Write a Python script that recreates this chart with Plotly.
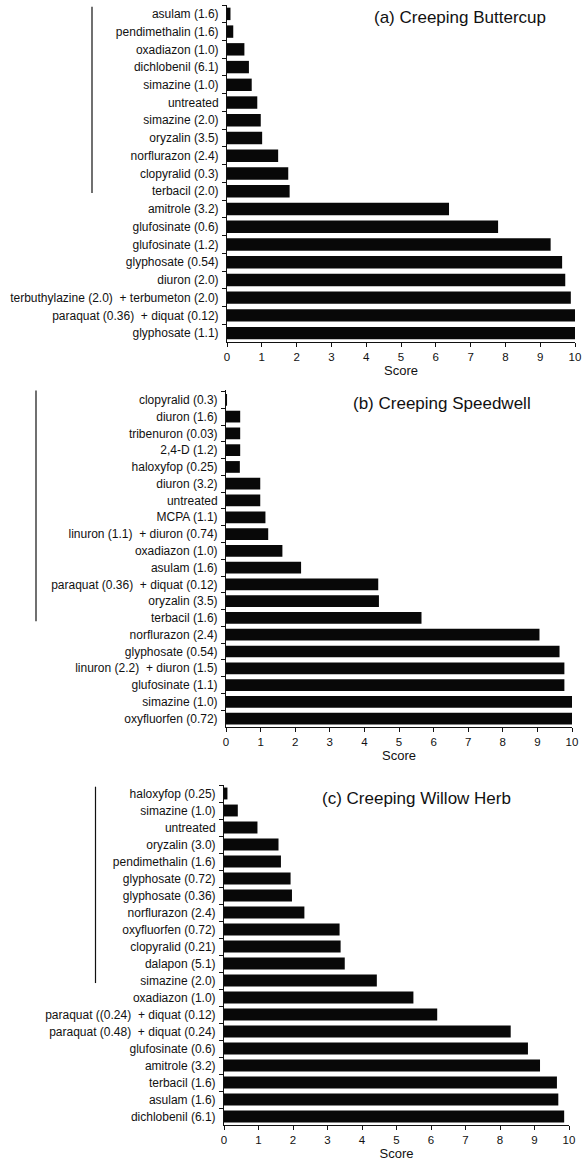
import plotly.graph_objects as go

# ---------------- data ----------------
A_LABELS = ["asulam (1.6)", "pendimethalin (1.6)", "oxadiazon (1.0)", "dichlobenil (6.1)",
            "simazine (1.0)", "untreated", "simazine (2.0)", "oryzalin (3.5)",
            "norflurazon (2.4)", "clopyralid (0.3)", "terbacil (2.0)", "amitrole (3.2)",
            "glufosinate (0.6)", "glufosinate (1.2)", "glyphosate (0.54)", "diuron (2.0)",
            "terbuthylazine (2.0)  + terbumeton (2.0)", "paraquat (0.36)  + diquat (0.12)",
            "glyphosate (1.1)"]
A_SCORES = [0.10, 0.18, 0.50, 0.63, 0.71, 0.87, 0.97, 1.01, 1.47, 1.76, 1.80, 6.38,
            7.79, 9.30, 9.63, 9.72, 9.88, 10.0, 10.0]
A_GROUP = ("asulam (1.6)", "terbacil (2.0)")

B_LABELS = ["clopyralid (0.3)", "diuron (1.6)", "tribenuron (0.03)", "2,4-D (1.2)",
            "haloxyfop (0.25)", "diuron (3.2)", "untreated", "MCPA (1.1)",
            "linuron (1.1)  + diuron (0.74)", "oxadiazon (1.0)", "asulam (1.6)",
            "paraquat (0.36)  + diquat (0.12)", "oryzalin (3.5)", "terbacil (1.6)",
            "norflurazon (2.4)", "glyphosate (0.54)", "linuron (2.2)  + diuron (1.5)",
            "glufosinate (1.1)", "simazine (1.0)", "oxyfluorfen (0.72)"]
B_SCORES = [0.03, 0.41, 0.41, 0.41, 0.40, 0.99, 0.99, 1.14, 1.22, 1.63, 2.17, 4.40,
            4.42, 5.65, 9.06, 9.64, 9.78, 9.78, 10.0, 10.0]
B_GROUP = ("clopyralid (0.3)", "terbacil (1.6)")

C_LABELS = ["haloxyfop (0.25)", "simazine (1.0)", "untreated", "oryzalin (3.0)",
            "pendimethalin (1.6)", "glyphosate (0.72)", "glyphosate (0.36)",
            "norflurazon (2.4)", "oxyfluorfen (0.72)", "clopyralid (0.21)", "dalapon (5.1)",
            "simazine (2.0)", "oxadiazon (1.0)", "paraquat ((0.24)  + diquat (0.12)",
            "paraquat (0.48)  + diquat (0.24)", "glufosinate (0.6)", "amitrole (3.2)",
            "terbacil (1.6)", "asulam (1.6)", "dichlobenil (6.1)"]
C_SCORES = [0.10, 0.40, 0.97, 1.58, 1.65, 1.93, 1.97, 2.33, 3.35, 3.38, 3.50, 4.43,
            5.49, 6.18, 8.31, 8.81, 9.16, 9.65, 9.69, 9.86]
C_GROUP = ("haloxyfop (0.25)", "simazine (2.0)")

TITLES = ["(a) Creeping Buttercup", "(b) Creeping Speedwell", "(c) Creeping Willow Herb"]
X_TICKS = [0, 1, 2, 3, 4, 5, 6, 7, 8, 9, 10]
X_TITLE = "Score"

# ---------------- layout geometry (pixels of 584x1169 canvas) ----------------
W, H = 584, 1169
FONT = "Liberation Sans, Arial, Helvetica, sans-serif"
panels = [
    dict(labels=A_LABELS, scores=A_SCORES, group=A_GROUP, x0=227, x1=575, top=5, bot=342,
         tx=372, ty=18, gx=92, gtop=-0.4, gbot=0.1),
    dict(labels=B_LABELS, scores=B_SCORES, group=B_GROUP, x0=226, x1=572, top=390, bot=727,
         tx=351, ty=403, gx=36, gtop=-0.55, gbot=0.2),
    dict(labels=C_LABELS, scores=C_SCORES, group=C_GROUP, x0=224, x1=569, top=785, bot=1125,
         tx=320, ty=798, gx=95.5, gtop=-0.4, gbot=0.15),
]

fig = go.Figure()
layout = dict(
    width=W, height=H, margin=dict(l=0, r=0, t=0, b=0),
    paper_bgcolor="white", plot_bgcolor="white",
    showlegend=False, bargap=0.3,
    font=dict(family=FONT, color="#111", size=11),
)
annotations = []
shapes = []
for i, p in enumerate(panels):
    n = i + 1
    xa = "x" if n == 1 else f"x{n}"
    ya = "y" if n == 1 else f"y{n}"
    fig.add_trace(go.Bar(x=p["scores"], y=p["labels"], orientation="h",
                         marker=dict(color="#080808", line=dict(width=0)),
                         xaxis=xa, yaxis=ya))
    xkey = "xaxis" if n == 1 else f"xaxis{n}"
    ykey = "yaxis" if n == 1 else f"yaxis{n}"
    layout[xkey] = dict(
        domain=[p["x0"] / W, p["x1"] / W], anchor=ya, range=[0, 10],
        tickvals=X_TICKS, ticktext=[str(t) for t in X_TICKS],
        ticks="outside", ticklen=4, tickcolor="#111", tickwidth=1,
        showline=True, linecolor="#111", linewidth=1, showgrid=False, zeroline=False,
        tickfont=dict(size=11.5, family=FONT), automargin=False,
        ticklabeloverflow="allow",
        title=dict(text=X_TITLE, font=dict(size=13, family=FONT), standoff=4),
    )
    layout[ykey] = dict(
        domain=[1 - p["bot"] / H, 1 - p["top"] / H], anchor=xa,
        type="category", categoryorder="array", categoryarray=p["labels"],
        autorange="reversed",
        ticks="outside", ticklen=4, tickcolor="#111", tickwidth=1, tickson="boundaries",
        showline=True, linecolor="#111", linewidth=1, showgrid=False, zeroline=False,
        tickfont=dict(size=12, family=FONT), automargin=False, ticklabelstandoff=5,
    )
    annotations.append(dict(text=TITLES[i], xref="paper", yref="paper",
                            x=p["tx"] / W, y=1 - p["ty"] / H, xanchor="left",
                            yanchor="middle", showarrow=False,
                            font=dict(size=17, family=FONT, color="#111")))
    g0 = p["labels"].index(p["group"][0])
    g1 = p["labels"].index(p["group"][1])
    shapes.append(dict(type="line", xref="paper", yref=ya,
                       x0=p["gx"] / W, x1=p["gx"] / W,
                       y0=g0 + p["gtop"], y1=g1 + p["gbot"],
                       line=dict(color="#111", width=1.2)))

layout["annotations"] = annotations
layout["shapes"] = shapes
fig.update_layout(**layout)
fig.write_html(
    "out.html",
    config={"displayModeBar": False, "staticPlot": True},
    post_script="document.body.style.margin='0';document.body.style.overflow='hidden';",
)
